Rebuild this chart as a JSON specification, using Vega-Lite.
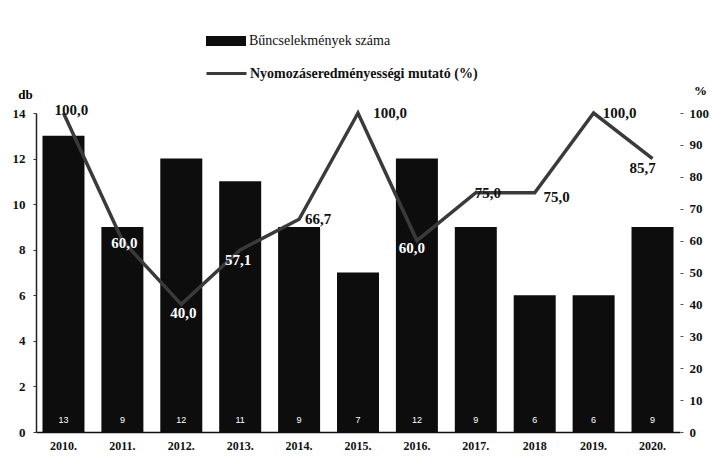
{
  "$schema": "https://vega.github.io/schema/vega-lite/v6.json",
  "autosize": "none",
  "width": 644,
  "height": 319,
  "padding": {"left": 36, "top": 113, "right": 33, "bottom": 31},
  "background": "white",
  "config": {
    "view": {"stroke": null},
    "locale": {"number": {"decimal": ",", "thousands": " ", "grouping": [3], "currency": ["", ""]}},
    "font": "Liberation Serif"
  },
  "data": {
    "values": [
      {"year": "2010.", "count": 13, "rate": 100},
      {"year": "2011.", "count": 9, "rate": 60},
      {"year": "2012.", "count": 12, "rate": 40},
      {"year": "2013.", "count": 11, "rate": 57.1},
      {"year": "2014.", "count": 9, "rate": 66.7},
      {"year": "2015.", "count": 7, "rate": 100},
      {"year": "2016.", "count": 12, "rate": 60},
      {"year": "2017.", "count": 9, "rate": 75},
      {"year": "2018", "count": 6, "rate": 75},
      {"year": "2019.", "count": 6, "rate": 100},
      {"year": "2020.", "count": 9, "rate": 85.7}
    ]
  },
  "encoding": {
    "x": {
      "field": "year", "type": "nominal", "sort": null,
      "scale": {"paddingInner": 0.287, "paddingOuter": 0.11},
      "axis": {"title": null, "labelAngle": 0, "labelFont": "Liberation Serif", "labelFontWeight": "bold", "labelFontSize": 12, "labelColor": "#111", "ticks": false, "domainColor": "#111", "domainWidth": 1.5, "labelPadding": 8}
    }
  },
  "layer": [
    {
      "layer": [
        {
          "mark": {"type": "bar", "color": "#0d0d0d"},
          "encoding": {
            "y": {
              "field": "count", "type": "quantitative",
              "scale": {"domain": [0, 14], "nice": false},
              "axis": {"title": "db", "titleAngle": 0, "titleX": -11, "titleY": -12, "titleFont": "Liberation Serif", "titleFontSize": 13, "titleFontWeight": "bold", "titleAlign": "center", "values": [0, 2, 4, 6, 8, 10, 12, 14], "grid": false, "labelOverlap": false, "labelFont": "Liberation Serif", "labelFontWeight": "bold", "labelFontSize": 13, "labelColor": "#111", "tickSize": 3, "tickColor": "#333", "domainColor": "#222", "domainWidth": 1.5, "labelPadding": 8}
            },
            "color": {
              "datum": "Bűncselekmények száma",
              "scale": {"range": ["#0d0d0d"]},
              "legend": {"orient": "none", "legendX": 169, "legendY": -93, "title": null, "symbolType": "M-1,-0.25H1V0.25H-1Z", "symbolSize": 1600, "labelFont": "Liberation Serif", "labelFontSize": 14, "labelColor": "#111", "labelOffset": 2, "labelLimit": 400}
            }
          }
        },
        {
          "mark": {"type": "text", "color": "white", "fontSize": 9, "dy": -12, "font": "Liberation Sans"},
          "encoding": {
            "y": {
              "datum": 0, "type": "quantitative",
              "scale": {"domain": [0, 14], "nice": false},
              "axis": {"title": "db", "titleAngle": 0, "titleX": -11, "titleY": -12, "titleFont": "Liberation Serif", "titleFontSize": 13, "titleFontWeight": "bold", "titleAlign": "center", "values": [0, 2, 4, 6, 8, 10, 12, 14], "grid": false, "labelOverlap": false, "labelFont": "Liberation Serif", "labelFontWeight": "bold", "labelFontSize": 13, "labelColor": "#111", "tickSize": 3, "tickColor": "#333", "domainColor": "#222", "domainWidth": 1.5, "labelPadding": 8}
            },
            "text": {"field": "count", "type": "quantitative"}
          }
        }
      ]
    },
    {
      "layer": [
        {
          "mark": {"type": "line", "strokeWidth": 3.5},
          "encoding": {
            "y": {
              "field": "rate", "type": "quantitative",
              "scale": {"domain": [0, 100], "nice": false},
              "axis": {"orient": "right", "title": "%", "titleAngle": 0, "titleX": 20, "titleY": -16, "titleFont": "Liberation Serif", "titleFontSize": 13, "titleFontWeight": "bold", "values": [0, 10, 20, 30, 40, 50, 60, 70, 80, 90, 100], "labelOverlap": false, "grid": false, "domain": false, "labelFont": "Liberation Serif", "labelFontWeight": "bold", "labelFontSize": 13, "labelColor": "#111", "tickSize": 3, "tickColor": "#555", "labelPadding": 6}
            },
            "stroke": {
              "datum": "Nyomozáseredményességi mutató (%)",
              "scale": {"range": ["#3a3a3a"]},
              "legend": {"orient": "none", "legendX": 169, "legendY": -61, "title": null, "symbolType": "stroke", "symbolSize": 1600, "symbolStrokeWidth": 3, "labelFont": "Liberation Serif", "labelFontSize": 14, "labelFontWeight": "bold", "labelColor": "#111", "labelOffset": 2, "labelLimit": 400}
            }
          }
        },
        {
          "mark": {
            "type": "text", "fontSize": 15, "fontWeight": "bold", "font": "Liberation Serif",
            "color": {"expr": "indexof(['2011.', '2012.', '2013.', '2016.'], datum.year) >= 0 ? 'white' : '#111'"},
            "dx": {"expr": "datum.year == '2010.' ? 8 : datum.year == '2014.' ? 19 : datum.year == '2015.' ? 32 : datum.year == '2016.' ? -5 : datum.year == '2017.' ? 12 : datum.year == '2018' ? 22 : datum.year == '2019.' ? 26 : datum.year == '2020.' ? -10 : datum.year == '2013.' ? -2 : 2"},
            "dy": {"expr": "datum.year == '2010.' ? -3 : datum.year == '2012.' ? 9 : datum.year == '2013.' ? 10 : datum.year == '2016.' ? 7 : datum.year == '2020.' ? 9 : datum.year == '2011.' ? 2 : datum.year == '2018' ? 4 : 0"}
          },
          "encoding": {
            "y": {
              "field": "rate", "type": "quantitative",
              "scale": {"domain": [0, 100], "nice": false},
              "axis": {"orient": "right", "title": "%", "titleAngle": 0, "titleX": 20, "titleY": -16, "titleFont": "Liberation Serif", "titleFontSize": 13, "titleFontWeight": "bold", "values": [0, 10, 20, 30, 40, 50, 60, 70, 80, 90, 100], "labelOverlap": false, "grid": false, "domain": false, "labelFont": "Liberation Serif", "labelFontWeight": "bold", "labelFontSize": 13, "labelColor": "#111", "tickSize": 3, "tickColor": "#555", "labelPadding": 6}
            },
            "text": {"field": "rate", "type": "quantitative", "format": ".1f"}
          }
        }
      ]
    }
  ],
  "resolve": {"scale": {"y": "independent"}}
}
